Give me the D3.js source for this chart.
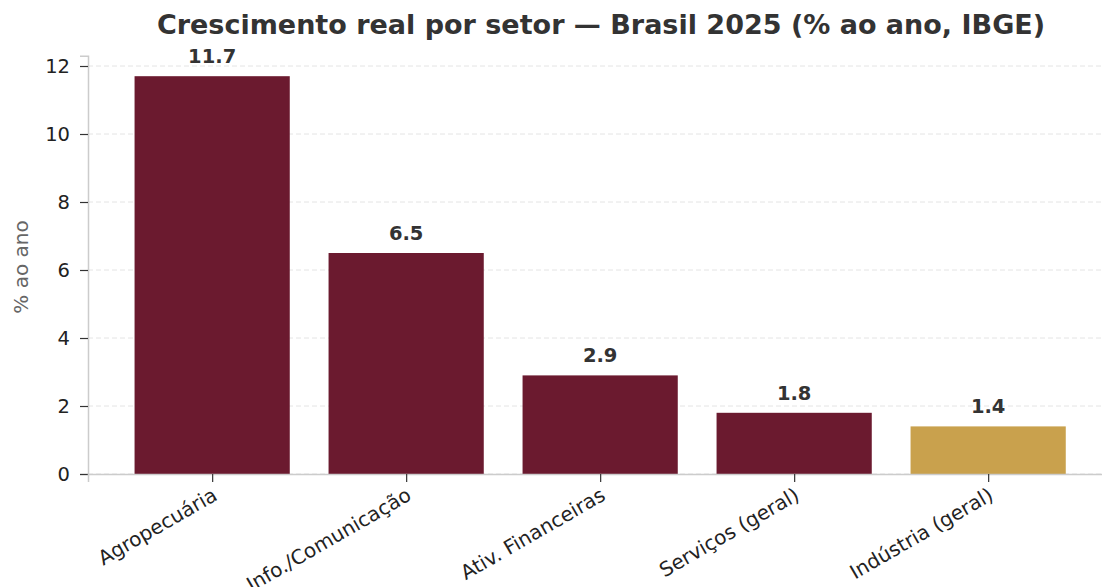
<!DOCTYPE html>
<html><head><meta charset="utf-8">
<script src="https://cdn.jsdelivr.net/npm/d3@7"></script>
<style>body{margin:0;background:#fff}svg{display:block}text{font-family:"DejaVu Sans",sans-serif}</style>
</head><body><svg id="c" width="1102" height="587"></svg>
<script>
const categories = ["Agropecuária","Info./Comunicação","Ativ. Financeiras","Serviços (geral)","Indústria (geral)"];
const values = [11.7, 6.5, 2.9, 1.8, 1.4];
const barColors = ["#6b1a2f","#6b1a2f","#6b1a2f","#6b1a2f","#c9a14d"];
const yTicks = [0,2,4,6,8,10,12];
const titleText = "Crescimento real por setor — Brasil 2025 (% ao ano, IBGE)";
const yLabel = "% ao ano";

const svg = d3.select("#c");
const left = 88, bottom = 474;
const x = d3.scaleLinear().domain([-0.64, 4.64]).range([left, left + 5.28*194]);
const y = d3.scaleLinear().domain([0, 12.3]).range([bottom, bottom - 12.3*34]);

// grid
svg.append("g").selectAll("line").data(yTicks).join("line")
  .attr("x1", left).attr("x2", 1102).attr("y1", d=>y(d)).attr("y2", d=>y(d))
  .attr("stroke", "#e4e4e4").attr("stroke-width", 1).attr("stroke-dasharray", "5,3");

// bars
svg.append("g").selectAll("rect").data(values).join("rect")
  .attr("x", (d,i)=>x(i-0.4)).attr("width", (d,i)=>x(i+0.4)-x(i-0.4))
  .attr("y", d=>y(d)).attr("height", d=>y(0)-y(d))
  .attr("fill", (d,i)=>barColors[i]);

// value labels
svg.append("g").selectAll("text").data(values).join("text")
  .attr("x", (d,i)=>x(i)).attr("y", d=>y(d)-13)
  .attr("text-anchor", "middle").attr("font-size", 19.5).attr("font-weight", "bold")
  .attr("fill", "#333").text(d=>d.toFixed(1));

// y axis
const ya = svg.append("g").attr("transform", `translate(${left},0)`)
  .call(d3.axisLeft(y).tickValues(yTicks).tickSize(8).tickPadding(10).tickFormat(d3.format("d")));
ya.select(".domain").attr("stroke", "#cccccc").attr("stroke-width", 1.5);
ya.selectAll(".tick line").attr("stroke", "#333").attr("stroke-width", 1.2);
ya.selectAll(".tick text").attr("font-size", 19.5).attr("fill", "#222").attr("font-family", "DejaVu Sans");

// x axis
const xa = svg.append("g").attr("transform", `translate(0,${bottom})`)
  .call(d3.axisBottom(x).tickValues(d3.range(categories.length)).tickSize(8).tickPadding(6)
    .tickFormat(i=>categories[i]));
xa.select(".domain").attr("stroke", "#cccccc").attr("stroke-width", 1.5);
xa.selectAll(".tick line").attr("stroke", "#333").attr("stroke-width", 1.2);
xa.selectAll(".tick text").attr("font-size", 20).attr("fill", "#222").attr("font-family", "DejaVu Sans")
  .attr("text-anchor", "end").attr("x", 0).attr("y", 0).attr("dy", 0)
  .attr("transform", "translate(6,25) rotate(-30)");

// y label
svg.append("text").attr("transform", `translate(28,267) rotate(-90)`)
  .attr("text-anchor", "middle").attr("font-size", 20).attr("fill", "#666").text(yLabel);

// title
svg.append("text").attr("x", 601).attr("y", 34).attr("text-anchor", "middle")
  .attr("font-size", 27).attr("font-weight", "bold").attr("fill", "#333").text(titleText);
</script></body></html>
